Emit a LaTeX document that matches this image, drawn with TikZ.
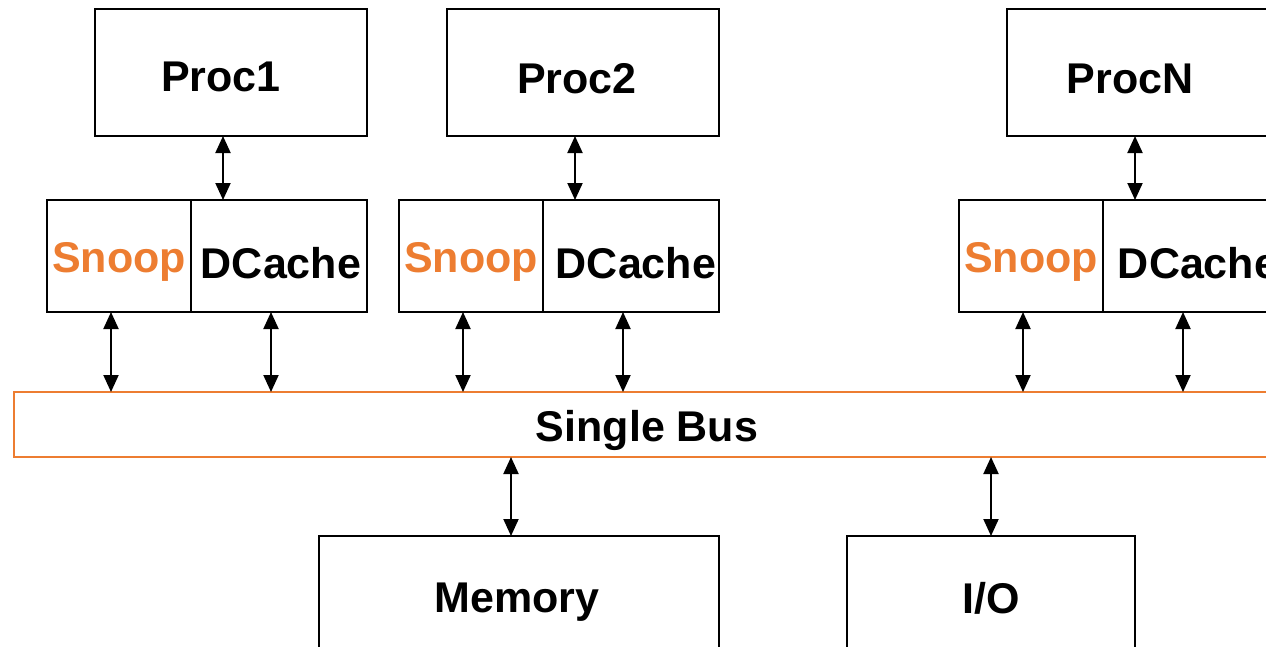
\documentclass[tikz,border=0pt]{standalone}
\usepackage{fontspec}
\setmainfont{Liberation Sans}
\usetikzlibrary{arrows.meta}
\definecolor{busorange}{HTML}{ED7D31}
\tikzset{
  box/.style={draw=black, line width=2pt, rectangle, inner sep=0pt, outer sep=0pt},
  busbox/.style={draw=busorange, line width=2pt, rectangle, inner sep=0pt, outer sep=0pt},
  txt/.style={font=\fontsize{43}{50}\selectfont\bfseries, inner sep=0pt},
  snooptxt/.style={txt, text=busorange},
  biarrow/.style={line width=2pt, {Triangle[length=17pt,width=15pt]}-{Triangle[length=17pt,width=15pt]}}
}
\begin{document}
\begin{tikzpicture}[x=1pt,y=-1pt]
\useasboundingbox (0,0) rectangle (1266,646);
\clip (0,0) rectangle (1266,646);
\fill[white] (0,0) rectangle (1266,646);
% processors
\node[box, minimum width=272pt, minimum height=127pt,
  label={[txt, xshift=-10pt, yshift=-4pt]center:Proc1}] (proc1) at (231,72.5) {};
\node[box, minimum width=272pt, minimum height=127pt,
  label={[txt, xshift=-6pt, yshift=-6pt]center:Proc2}] (proc2) at (583,72.5) {};
\node[box, minimum width=272pt, minimum height=127pt,
  label={[txt, xshift=-13pt, yshift=-6pt]center:ProcN}] (procN) at (1143,72.5) {};
% caches
\node[box, minimum width=144pt, minimum height=112pt,
  label={[snooptxt, yshift=-6pt]center:Snoop}] (sn1) at (119,256) {};
\node[box, minimum width=176pt, minimum height=112pt,
  label={[txt, xshift=2pt, yshift=-7pt]center:DCache}] (dc1) at (279,256) {};
\node[box, minimum width=144pt, minimum height=112pt,
  label={[snooptxt, yshift=-6pt]center:Snoop}] (sn2) at (471,256) {};
\node[box, minimum width=176pt, minimum height=112pt,
  label={[txt, xshift=5pt, yshift=-7pt]center:DCache}] (dc2) at (631,256) {};
\node[box, minimum width=144pt, minimum height=112pt,
  label={[snooptxt, yshift=-6pt]center:Snoop}] (snN) at (1031,256) {};
\node[box, minimum width=176pt, minimum height=112pt,
  label={[txt, xshift=7pt, yshift=-7pt]center:DCache}] (dcN) at (1191,256) {};
% bus
\node[busbox, minimum width=1280pt, minimum height=65pt,
  label={[txt, xshift=-7pt, yshift=-6pt]center:Single Bus}] (bus) at (654,424.5) {};
% memory and io
\node[box, minimum width=400pt, minimum height=124pt,
  label={[txt, xshift=-2pt, yshift=-4pt]center:Memory}] (mem) at (519,598) {};
\node[box, minimum width=288pt, minimum height=124pt,
  label={[txt, yshift=0pt]center:I/O}] (io) at (991,598) {};
% arrow x positions
\coordinate (x1) at (223,0);
\coordinate (x2) at (575,0);
\coordinate (x3) at (1135,0);
\coordinate (s1) at (111,0);
\coordinate (d1) at (271,0);
\coordinate (s2) at (463,0);
\coordinate (d2) at (623,0);
\coordinate (s3) at (1023,0);
\coordinate (d3) at (1183,0);
\coordinate (m1) at (511,0);
\coordinate (i1) at (991,0);
% arrows
\draw[biarrow] (proc1.south -| x1) -- (dc1.north -| x1);
\draw[biarrow] (proc2.south -| x2) -- (dc2.north -| x2);
\draw[biarrow] (procN.south -| x3) -- (dcN.north -| x3);
\draw[biarrow] (sn1.south -| s1) -- (bus.north -| s1);
\draw[biarrow] (dc1.south -| d1) -- (bus.north -| d1);
\draw[biarrow] (sn2.south -| s2) -- (bus.north -| s2);
\draw[biarrow] (dc2.south -| d2) -- (bus.north -| d2);
\draw[biarrow] (snN.south -| s3) -- (bus.north -| s3);
\draw[biarrow] (dcN.south -| d3) -- (bus.north -| d3);
\draw[biarrow] (bus.south -| m1) -- (mem.north -| m1);
\draw[biarrow] (bus.south -| i1) -- (io.north -| i1);
\end{tikzpicture}
\end{document}
